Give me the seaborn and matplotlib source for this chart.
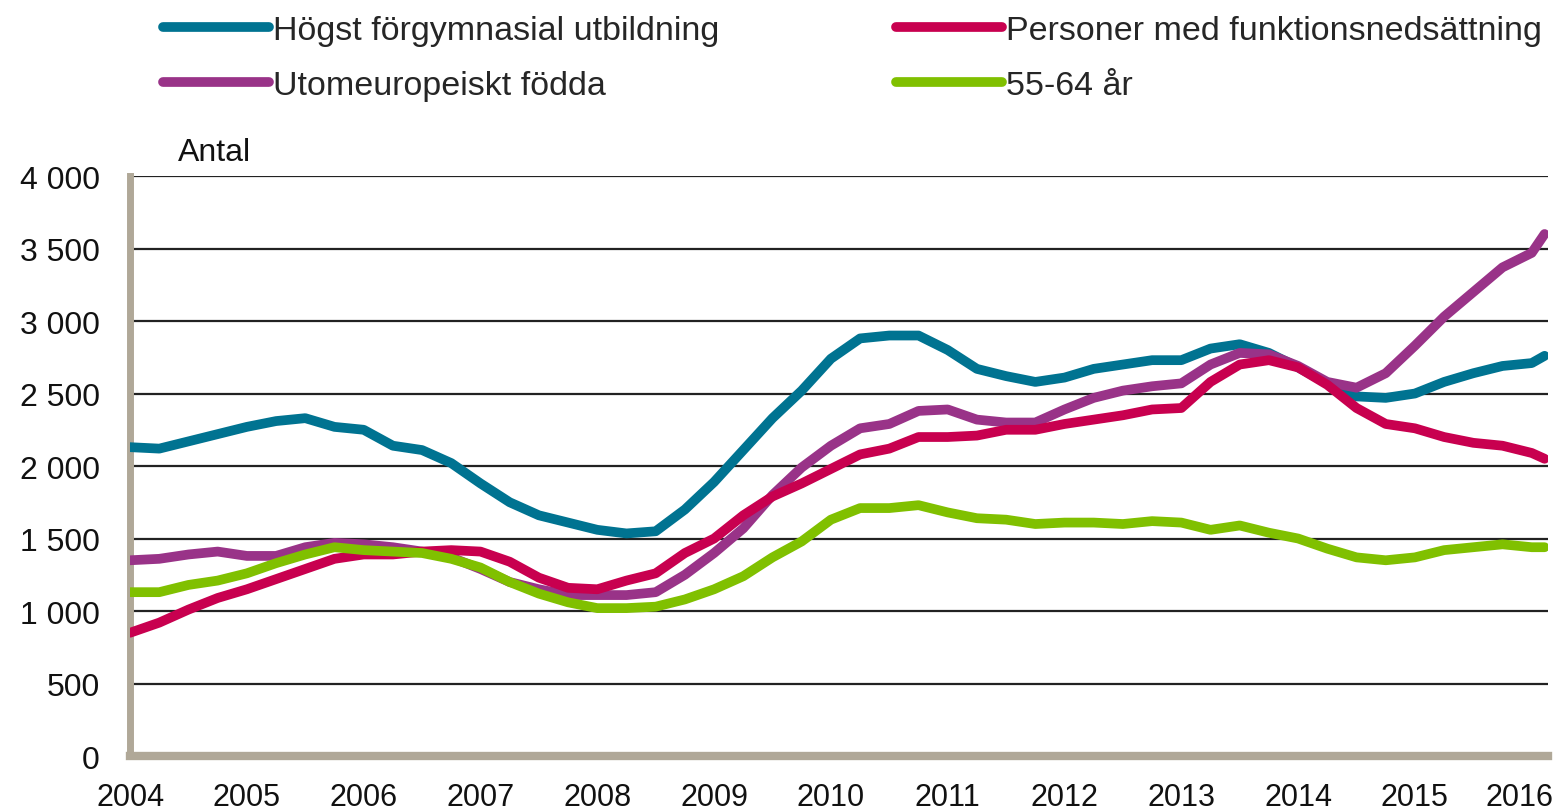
import numpy as np
import pandas as pd
import matplotlib
matplotlib.use('Agg')
import matplotlib.pyplot as plt
import matplotlib.transforms as mtransforms
import seaborn as sns

# Quarterly readings, Jan 2004 .. Jan 2016, plus last month (Feb 2016)
periods = list(np.arange(2004, 2016.01, 0.25)) + [2016.11]

hogst = [2130, 2120, 2170, 2220, 2270, 2310, 2330, 2270, 2250, 2140, 2110, 2020,
         1880, 1750, 1660, 1610, 1560, 1535, 1550, 1700, 1890, 2110, 2330, 2520,
         2740, 2880, 2900, 2900, 2800, 2670, 2620, 2580, 2610, 2670, 2700, 2730,
         2730, 2810, 2840, 2780, 2680, 2570, 2480, 2470, 2500, 2580, 2640, 2690,
         2710, 2760]
funktion = [850, 920, 1010, 1090, 1150, 1220, 1290, 1360, 1390, 1390, 1410, 1420,
            1410, 1340, 1230, 1160, 1150, 1210, 1260, 1400, 1500, 1660, 1790, 1880,
            1980, 2080, 2120, 2200, 2200, 2210, 2250, 2250, 2290, 2320, 2350, 2390,
            2400, 2580, 2700, 2730, 2680, 2560, 2400, 2290, 2260, 2200, 2160, 2140,
            2090, 2050]
utomeuropeiskt = [1350, 1360, 1390, 1410, 1380, 1380, 1440, 1470, 1460, 1440, 1410, 1370,
                  1290, 1200, 1150, 1110, 1110, 1110, 1130, 1250, 1400, 1570, 1800, 1990,
                  2140, 2260, 2290, 2380, 2390, 2320, 2300, 2300, 2390, 2470, 2520, 2550,
                  2570, 2700, 2780, 2770, 2690, 2580, 2540, 2640, 2830, 3030, 3200, 3370,
                  3470, 3600]
age_55_64 = [1130, 1130, 1180, 1210, 1260, 1330, 1390, 1440, 1420, 1410, 1400, 1360,
             1300, 1200, 1120, 1060, 1020, 1020, 1030, 1080, 1150, 1240, 1370, 1480,
             1630, 1710, 1710, 1730, 1680, 1640, 1630, 1600, 1610, 1610, 1600, 1620,
             1610, 1560, 1590, 1540, 1500, 1430, 1370, 1350, 1370, 1420, 1440, 1460,
             1440, 1440]

names = ['Högst förgymnasial utbildning', 'Utomeuropeiskt födda',
         'Personer med funktionsnedsättning', '55-64 år']
colors = ['#007391', '#993388', '#c8004f', '#80c000']
year_ticks = list(range(2004, 2017))
y_ticks = [0, 500, 1000, 1500, 2000, 2500, 3000, 3500, 4000]

series = {names[0]: hogst, names[1]: utomeuropeiskt,
          names[2]: funktion, names[3]: age_55_64}
df = pd.concat([pd.DataFrame({'period': periods, 'antal': v, 'serie': k})
                for k, v in series.items()], ignore_index=True)

sns.set_style('white')
plt.rcParams['font.family'] = ['Liberation Sans', 'DejaVu Sans']

fig = plt.figure(figsize=(15.54, 8.12), dpi=100)
ax = fig.add_axes([0.0837, 0.0677, 0.9125, 0.7143])

for y in y_ticks[1:]:
    ax.axhline(y, color='#222222', lw=1.6, zorder=1)

sns.lineplot(data=df, x='period', y='antal', hue='serie', hue_order=names,
             palette=dict(zip(names, colors)), lw=7, ax=ax, legend=False,
             zorder=3, solid_capstyle='round', solid_joinstyle='round')

ax.set_xlim(2004, 2016.14)
ax.set_ylim(0, 4000)
ax.set_xticks(year_ticks)
ax.set_xticklabels([str(y) for y in year_ticks])
ax.set_yticks(y_ticks)
ax.set_yticklabels([f'{y:,}'.replace(',', ' ') for y in y_ticks])
ax.tick_params(axis='both', length=0, colors='#111111')
ax.tick_params(axis='x', pad=19, labelsize=22)
ax.tick_params(axis='y', pad=22, labelsize=23)
ax.set_xlabel('')
ax.set_ylabel('')
ax.grid(False)

# pull the last year label slightly inwards so it stays inside the figure
last = ax.get_xticklabels()[-1]
last.set_transform(last.get_transform() +
                   mtransforms.ScaledTranslation(-12 / 100, 0, fig.dpi_scale_trans))

for s in ['top', 'right']:
    ax.spines[s].set_visible(False)
ax.spines['left'].set_color('#b0a898')
ax.spines['left'].set_linewidth(5)
ax.spines['bottom'].set_color('#b0a898')
ax.spines['bottom'].set_linewidth(6)

fig.text(0.1145, 0.812, 'Antal', fontsize=23, va='center', ha='left', color='#111111')

handles = [plt.Line2D([], [], color=c, lw=7, solid_capstyle='round') for c in colors]
fig.legend(handles, names, ncol=2, loc='upper left', bbox_to_anchor=(0.0855, 1.018),
           frameon=False, fontsize=24.5, handlelength=3.1, handletextpad=0.12,
           columnspacing=5.2, labelspacing=0.7)

fig.savefig('out.png', dpi=100)
